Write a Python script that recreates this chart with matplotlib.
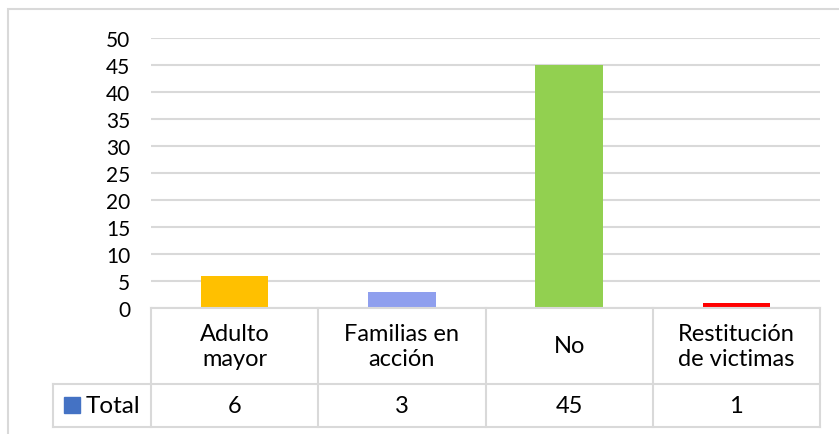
import matplotlib

matplotlib.use("Agg")

import matplotlib.pyplot as plt
import numpy as np
from matplotlib.lines import Line2D
from matplotlib.patches import Rectangle
from matplotlib.transforms import blended_transform_factory

categories = ["Adulto\nmayor", "Familias en\nacción", "No", "Restitución\nde victimas"]
totals = [6, 3, 45, 1]
bar_colors = ["#FFC000", "#8F9FEE", "#92D050", "#FF0000"]
series_name = "Total"
series_color = "#4472C4"
y_ticks = list(range(0, 51, 5))

W, H = 839, 435
GRID = "#D9D9D9"
FONT = "Lato"

plt.rcParams["font.family"] = [FONT, "DejaVu Sans"]


def fx(px):
    return px / W


def fy(py):
    return 1 - py / H


fig = plt.figure(figsize=(W / 100, H / 100), dpi=100)
ax = fig.add_axes([fx(151), fy(309), fx(820) - fx(151), fy(39) - fy(309)])

x = np.arange(len(categories))
ax.bar(x, totals, width=0.405, color=bar_colors, zorder=3)
ax.set_xlim(-0.5, len(categories) - 0.5)
ax.set_ylim(0, 50)
ax.set_yticks(y_ticks)
ax.tick_params(axis="y", length=0, pad=15, labelsize=15, labelcolor="black")
ax.set_xticks([])
ax.grid(axis="y", color=GRID, linewidth=1.5, zorder=0)
for side in ax.spines.values():
    side.set_visible(False)

# data table under the plot
tr = blended_transform_factory(ax.transData, fig.transFigure)
top, mid, bot = fy(309), fy(385), fy(428)
edges = np.arange(len(categories) + 1) - 0.5
for e in edges:
    fig.add_artist(Line2D([e, e], [top, bot], transform=tr, color=GRID, lw=1.5))
fig.add_artist(Line2D([edges[0], edges[-1]], [top, top], transform=tr, color=GRID, lw=1.5))
for yy in (mid, bot):
    fig.add_artist(Line2D([fx(53), fx(820)], [yy, yy], transform=fig.transFigure, color=GRID, lw=1.5))
fig.add_artist(Line2D([fx(53), fx(53)], [mid, bot], transform=fig.transFigure, color=GRID, lw=1.5))

for xi, label, val in zip(x, categories, totals):
    fig.text(xi, (top + mid) / 2, label, transform=tr, ha="center", va="center",
             fontsize=17, linespacing=1.25)
    fig.text(xi, (mid + bot) / 2, str(val), transform=tr, ha="center", va="center", fontsize=17)

fig.add_artist(Rectangle((fx(64), fy(414)), fx(16), fy(398) - fy(414),
                         transform=fig.transFigure, color=series_color))
fig.text(fx(86), (mid + bot) / 2, series_name, ha="left", va="center", fontsize=17.5)

# chart area border
fig.add_artist(Rectangle((fx(8), fy(H + 5)), fx(W), fy(10) - fy(H + 5),
                         transform=fig.transFigure, fill=False, edgecolor=GRID, lw=1.5))

fig.savefig("out.png", dpi=100)
